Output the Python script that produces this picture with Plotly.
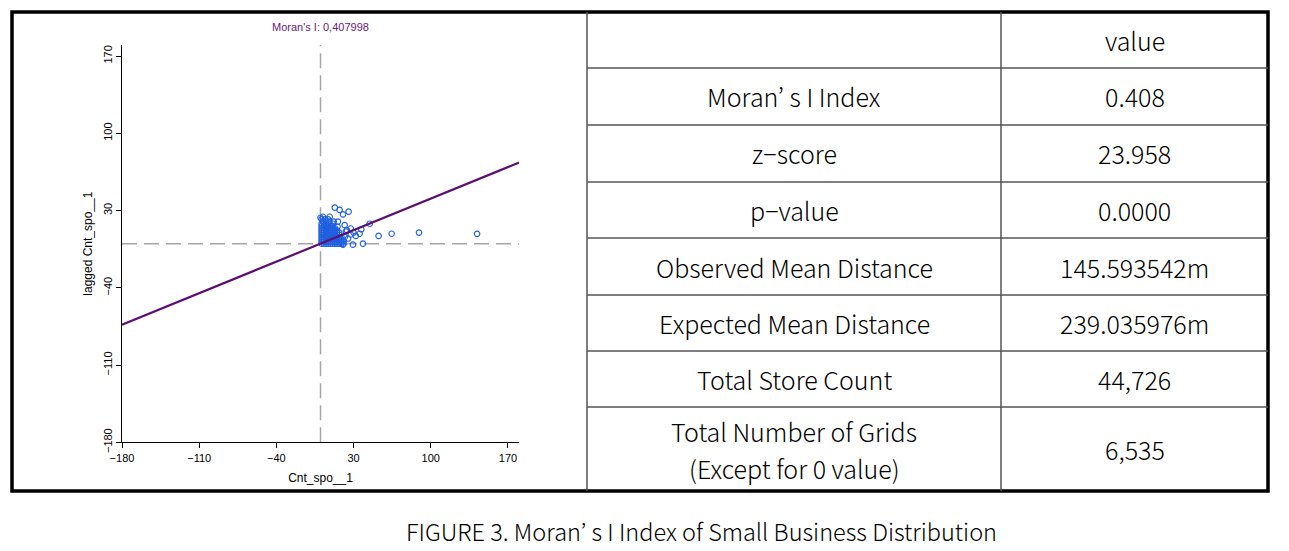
import plotly.graph_objects as go

W, H = 1289, 551

# ---------------- data ----------------
morans_i = 0.407998
plot_title = "Moran's I: 0,407998"
x_title = "Cnt_spo__1"
y_title = "lagged Cnt_spo__1"
tick_vals = [-180, -110, -40, 30, 100, 170]

# dense cluster near the origin (x = store count, y = lagged value)
cluster_x = [1, 3, 5, 7, 9, 11, 13, 15, 17, 19, 21,
             1, 3, 5, 7, 9, 11, 13, 15, 17, 19, 21,
             1, 3, 5, 7, 9, 11, 13, 15, 17, 19,
             1, 3, 5, 7, 9, 11, 13, 15, 17, 19,
             1, 3, 5, 7, 9, 11, 13, 15, 17,
             1, 3, 5, 7, 9, 11, 13, 15, 17,
             1, 3, 5, 7, 9, 11, 13, 15,
             1, 3, 5, 7, 9, 11, 13,
             1, 3, 5, 7, 9, 11,
             1, 3, 5, 8, 11,
             2, 5, 8, 12,
             1, 4, 7]
cluster_y = [0, 0, 0, 0, 0, 0, 0, 0, 0, 0, 0,
             2, 2, 2, 2, 2, 2, 2, 2, 2, 2, 2,
             4, 4, 4, 4, 4, 4, 4, 4, 4, 4,
             6, 6, 6, 6, 6, 6, 6, 6, 6, 6,
             8, 8, 8, 8, 8, 8, 8, 8, 8,
             10, 10, 10, 10, 10, 10, 10, 10, 10,
             12, 12, 12, 12, 12, 12, 12, 12,
             14, 14, 14, 14, 14, 14, 14,
             16, 16, 16, 16, 16, 16,
             18, 18, 18, 18, 18,
             20, 20, 20, 20,
             22, 22, 22]

# scattered points around the cluster
outer_x = [13, 17.3, 20.4, 25.5, 44.6, 52.7, 64.5, 89.3, 142, 38.5, 29.4, 20.4,
           35.5, 37, 27.4, 27.4, 25, 0, 2.2, 8.3, 15.8, 21.9, 15.5, 23, 30, 32, 22, 24]
outer_y = [32.6, 30.6, 26.5, 29, 18, 7, 9, 10, 8.9, 0, -0.9, -0.9,
           9, 13, 13.7, 8.3, 4.6, 23.5, 24.4, 24.4, 20, 16.8, 15.3, 11, 10, 7, 6, 12]

# table
table_header = ["", "value"]
row_labels = ["Moran’ s I Index", "z−score", "p−value", "Observed Mean Distance",
              "Expected Mean Distance", "Total Store Count",
              ["Total Number of Grids", "(Except for 0 value)"]]
row_values = ["0.408", "23.958", "0.0000", "145.593542m", "239.035976m", "44,726", "6,535"]
caption = "FIGURE 3. Moran’ s I Index of Small Business Distribution"

# ---------------- layout geometry (pixels) ----------------
frame = (12, 12, 1268, 491)
col_edges = [587, 1001, 1268]
row_edges = [12, 68, 125, 182, 238, 295, 351, 407, 491]
plot_box = (122, 45, 519, 442.3)  # left, top, right, bottom
line_gap = 37

def px(x):
    return x / W

def py(y):
    return 1 - y / H

table_font = "Noto Sans CJK KR, Roboto, Liberation Sans, sans-serif"
axis_font = "Liberation Sans, Arial, sans-serif"

fig = go.Figure()

# zero reference lines
fig.add_trace(go.Scatter(x=[0, 0], y=[-180, 180], mode="lines",
                         line=dict(color="#a6a6a6", width=1.5, dash="15px,7px"),
                         hoverinfo="skip", showlegend=False))
fig.add_trace(go.Scatter(x=[-180, 180], y=[0, 0], mode="lines",
                         line=dict(color="#a6a6a6", width=1.5, dash="15px,7px"),
                         hoverinfo="skip", showlegend=False))

# points
fig.add_trace(go.Scatter(x=cluster_x + outer_x, y=cluster_y + outer_y, mode="markers",
                         marker=dict(symbol="circle-open", size=5.5, color="#1f5fe0",
                                     line=dict(width=1.1, color="#1f5fe0")),
                         showlegend=False))

# regression line (slope = Moran's I)
fig.add_trace(go.Scatter(x=[-180, 180], y=[-180 * morans_i, 180 * morans_i], mode="lines",
                         line=dict(color="#5c1070", width=2.2), showlegend=False))

fig.update_xaxes(domain=[px(plot_box[0]), px(plot_box[2])], range=[-180, 180],
                 tickvals=tick_vals, showgrid=False, zeroline=False, automargin=False,
                 showline=True, linecolor="black", linewidth=1,
                 ticks="outside", ticklen=5, tickcolor="black",
                 tickfont=dict(family=axis_font, size=11, color="black"),
                 title=dict(text=x_title, font=dict(family=axis_font, size=12, color="black"),
                            standoff=11))
fig.update_yaxes(domain=[py(plot_box[3]), py(plot_box[1])], range=[-180, 180],
                 tickvals=tick_vals, showgrid=False, zeroline=False, automargin=False,
                 showline=True, linecolor="black", linewidth=1,
                 ticks="outside", ticklen=5, tickcolor="black", tickangle=-90,
                 tickfont=dict(family=axis_font, size=11, color="black"),
                 title=dict(text=y_title, font=dict(family=axis_font, size=12, color="black"),
                            standoff=6))

shapes = []
# outer frame
shapes.append(dict(type="rect", xref="paper", yref="paper",
                   x0=px(frame[0]), x1=px(frame[2]), y0=py(frame[3]), y1=py(frame[1]),
                   line=dict(color="black", width=3.5)))
# table vertical lines
for cx in col_edges[:-1]:
    shapes.append(dict(type="line", xref="paper", yref="paper",
                       x0=px(cx), x1=px(cx), y0=py(frame[3]), y1=py(frame[1]),
                       line=dict(color="#555555", width=1.5)))
# table horizontal lines
for ry in row_edges[1:-1]:
    shapes.append(dict(type="line", xref="paper", yref="paper",
                       x0=px(col_edges[0]), x1=px(col_edges[-1]), y0=py(ry), y1=py(ry),
                       line=dict(color="#555555", width=1.5)))

annotations = []
annotations.append(dict(text=plot_title, xref="paper", yref="paper",
                        x=px((plot_box[0] + plot_box[2]) / 2), y=py(27),
                        showarrow=False, xanchor="center", yanchor="middle",
                        font=dict(family=axis_font, size=11, color="#6a1b7a")))

def cell_text(text, c, r):
    xc = (col_edges[c] + col_edges[c + 1]) / 2
    yc = (row_edges[r] + row_edges[r + 1]) / 2
    lines = text if isinstance(text, list) else [text]
    n = len(lines)
    for k, t in enumerate(lines):
        yk = yc + (k - (n - 1) / 2) * line_gap
        annotations.append(dict(text=t, xref="paper", yref="paper", x=px(xc), y=py(yk),
                                showarrow=False, xanchor="center", yanchor="middle",
                                borderpad=0,
                                font=dict(family=table_font, size=25, color="black",
                                          weight=300)))

for c, t in enumerate(table_header):
    if t:
        cell_text(t, c, 0)
for i, (lab, val) in enumerate(zip(row_labels, row_values)):
    cell_text(lab, 0, i + 1)
    cell_text(val, 1, i + 1)

annotations.append(dict(text=caption, xref="paper", yref="paper", x=px(701), y=py(531),
                        showarrow=False, xanchor="center", yanchor="middle",
                        font=dict(family=table_font, size=23.5, color="black", weight=300)))

fig.update_layout(width=W, height=H, autosize=False,
                  margin=dict(l=0, r=0, t=0, b=0, pad=0, autoexpand=False),
                  paper_bgcolor="white", plot_bgcolor="white",
                  shapes=shapes, annotations=annotations, showlegend=False)

fig.write_html("out.html",
               config={"displayModeBar": False, "responsive": False},
               post_script="document.body.style.margin='0';document.body.style.overflow='hidden';")
